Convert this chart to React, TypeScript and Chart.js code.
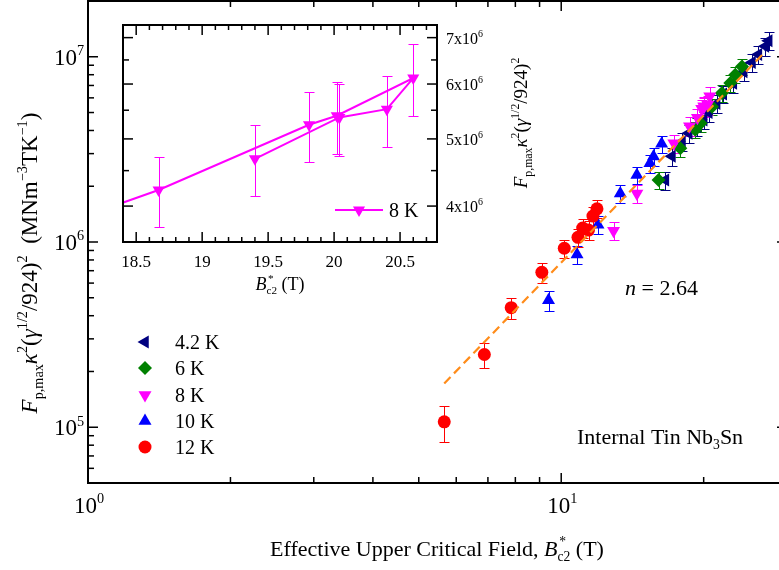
import { useEffect, useRef } from "react";
import { Chart, registerables } from "chart.js";

Chart.register(...registerables);

const SERIF = '"Liberation Serif", "Times New Roman", Times, serif';

// Effective upper critical field B*c2 (T) and scaled pinning force, per temperature
const b42 = [16.6, 17.14, 18.0, 18.6, 19.4, 20.0, 20.5, 21.3, 22.0, 23.1, 24.3, 25.3, 26.1, 27.0, 27.44];
const f42 = [2.16e6, 2.9e6, 3.48e6, 3.87e6, 4.2e6, 4.56e6, 5.0e6, 5.6e6, 6.3e6, 7.2e6, 8.3e6, 9.3e6, 1.03e7, 1.14e7, 1.22e7];
const e42 = [2.4e5, 3.2e5, 3.8e5, 4.3e5, 4.6e5, 5.0e5, 5.5e5, 6.2e5, 6.9e5, 7.9e5, 9.1e5, 1.02e6, 1.13e6, 1.25e6, 1.34e6];

const b6 = [16.06, 17.85, 19.2, 19.7, 20.83, 21.86, 22.77, 23.33, 24.1];
const f6 = [2.16e6, 3.21e6, 4.03e6, 4.38e6, 5.38e6, 6.37e6, 7.21e6, 8.0e6, 8.87e6];
const e6 = [2.2e5, 3.2e5, 4.0e5, 4.4e5, 5.4e5, 6.4e5, 7.2e5, 8.0e5, 8.9e5];

// 8 K points, kept in measurement order (the inset joins them in this order)
const b8 = [12.9, 14.45, 17.3, 18.67, 19.81, 20.02, 20.6, 20.4, 20.04, 19.4];
const f8 = [1.15e6, 1.83e6, 3.41e6, 4.22e6, 5.24e6, 5.4e6, 6.12e6, 5.52e6, 5.37e6, 4.68e6];
const e8 = [1.3e5, 2.0e5, 3.8e5, 4.9e5, 6.1e5, 6.4e5, 7.3e5, 6.5e5, 6.4e5, 5.5e5];

const b10 = [9.4, 10.8, 11.96, 13.33, 14.45, 15.4, 15.67, 16.3];
const f10 = [4.85e5, 8.57e5, 1.24e6, 1.83e6, 2.3e6, 2.66e6, 2.89e6, 3.39e6];
const e10 = [6.0e4, 1.0e5, 1.4e5, 2.0e5, 2.5e5, 3.0e5, 3.2e5, 3.6e5];

const b12 = [5.66, 6.88, 7.84, 9.1, 10.15, 10.85, 11.1, 11.42, 11.67, 11.9];
const f12 = [1.07e5, 2.47e5, 4.42e5, 6.86e5, 9.25e5, 1.06e6, 1.19e6, 1.16e6, 1.38e6, 1.51e6];
const e12 = [2.4e4, 3.8e4, 5.8e4, 8.5e4, 1.05e5, 1.2e5, 1.4e5, 1.4e5, 1.6e5, 1.7e5];

const seriesLabels = ["4.2 K", "6 K", "8 K", "10 K", "12 K"];

// Power-law fit F ~ A * B^n
const fitExponent = 2.64;
const fitPrefactor = 1774;
const fitB = [5.66, 26.6];

// Axis ranges and tick values
const mainXRange = [1, 30];
const mainYRange = [5e4, 2e7];
const mainXMajor = [1, 10];
const mainXExp = ["0", "1"];
const mainYMajor = [1e5, 1e6, 1e7];
const mainYExp = ["5", "6", "7"];

const insetXRange = [18.4, 20.78];
const insetYRange = [3.55e6, 7.3e6];
const insetXMajor = [18.5, 19, 19.5, 20, 20.5];
const insetXLabels = ["18.5", "19", "19.5", "20", "20.5"];
const insetYMajor = [4e6, 5e6, 6e6, 7e6];
const insetYMant = ["4x10", "5x10", "6x10", "7x10"];
const insetYMinor = [4.5e6, 5.5e6, 6.5e6];

type Seg = { t: string; k?: "i" | "sup" | "sub"; stack?: [string, string] };

function fontFor(size: number, italic: boolean) {
  return `${italic ? "italic " : ""}${size}px ${SERIF}`;
}

function segWidth(ctx: CanvasRenderingContext2D, s: Seg, size: number) {
  const small = size * 0.62;
  if (s.stack) {
    ctx.font = fontFor(small, false);
    return Math.max(ctx.measureText(s.stack[0]).width + size * 0.08, ctx.measureText(s.stack[1]).width);
  }
  const sz = s.k === "sup" || s.k === "sub" ? small : size;
  ctx.font = fontFor(sz, s.k === "i");
  return ctx.measureText(s.t).width;
}

function drawSegs(
  ctx: CanvasRenderingContext2D,
  segs: Seg[],
  x: number,
  y: number,
  size: number,
  align: "left" | "center" | "right"
) {
  let w = 0;
  for (const s of segs) w += segWidth(ctx, s, size);
  let cx = align === "center" ? x - w / 2 : align === "right" ? x - w : x;
  ctx.textAlign = "left";
  ctx.textBaseline = "alphabetic";
  ctx.fillStyle = "#000";
  const small = size * 0.62;
  for (const s of segs) {
    const adv = segWidth(ctx, s, size);
    if (s.stack) {
      ctx.font = fontFor(small, false);
      ctx.fillText(s.stack[0], cx + size * 0.08, y - size * 0.45);
      ctx.fillText(s.stack[1], cx, y + size * 0.24);
    } else {
      let dy = 0;
      let sz = size;
      if (s.k === "sup") {
        sz = small;
        dy = -size * 0.42;
      } else if (s.k === "sub") {
        sz = small;
        dy = size * 0.24;
      }
      ctx.font = fontFor(sz, s.k === "i");
      ctx.fillText(s.t, cx, y + dy);
    }
    cx += adv;
  }
}

function drawMarker(
  ctx: CanvasRenderingContext2D,
  style: string,
  rotDeg: number,
  r: number,
  x: number,
  y: number,
  color: string
) {
  ctx.save();
  ctx.fillStyle = color;
  ctx.beginPath();
  if (style === "circle") {
    ctx.arc(x, y, r, 0, Math.PI * 2);
  } else if (style === "rectRot") {
    ctx.moveTo(x, y - r);
    ctx.lineTo(x + r, y);
    ctx.lineTo(x, y + r);
    ctx.lineTo(x - r, y);
    ctx.closePath();
  } else {
    const a0 = (rotDeg * Math.PI) / 180;
    for (let k = 0; k < 3; k++) {
      const a = a0 + (k * 2 * Math.PI) / 3;
      const px = x + Math.sin(a) * r;
      const py = y - Math.cos(a) * r;
      if (k === 0) ctx.moveTo(px, py);
      else ctx.lineTo(px, py);
    }
    ctx.closePath();
  }
  ctx.fill();
  ctx.restore();
}

type Series = { b: number[]; f: number[]; e: number[]; color: string; style: string; rot: number; r: number };

const series: Series[] = [
  { b: b42, f: f42, e: e42, color: "#000080", style: "triangle", rot: -90, r: 7.5 },
  { b: b6, f: f6, e: e6, color: "#008000", style: "rectRot", rot: 0, r: 7 },
  { b: b8, f: f8, e: e8, color: "#ff00ff", style: "triangle", rot: 180, r: 7.5 },
  { b: b10, f: f10, e: e10, color: "#0000ff", style: "triangle", rot: 0, r: 7.5 },
  { b: b12, f: f12, e: e12, color: "#ff0000", style: "circle", rot: 0, r: 6.5 },
];

function errorBars(group: Series[], cap: number) {
  return {
    id: "errorBars",
    beforeDatasetsDraw(chart: any) {
      const { ctx, chartArea: a } = chart;
      const xs = chart.scales.x;
      const ys = chart.scales.y;
      ctx.save();
      ctx.beginPath();
      ctx.rect(a.left, a.top, a.right - a.left, a.bottom - a.top);
      ctx.clip();
      ctx.lineWidth = 1;
      for (const s of group) {
        ctx.strokeStyle = s.color;
        for (let i = 0; i < s.b.length; i++) {
          const px = Math.round(xs.getPixelForValue(s.b[i])) + 0.5;
          const yTop = Math.round(ys.getPixelForValue(s.f[i] + s.e[i])) + 0.5;
          const yBot = Math.round(ys.getPixelForValue(s.f[i] - s.e[i])) + 0.5;
          ctx.beginPath();
          ctx.moveTo(px, yTop);
          ctx.lineTo(px, yBot);
          ctx.moveTo(px - cap, yTop);
          ctx.lineTo(px + cap, yTop);
          ctx.moveTo(px - cap, yBot);
          ctx.lineTo(px + cap, yBot);
          ctx.stroke();
        }
      }
      ctx.restore();
    },
  };
}

function tickLine(ctx: CanvasRenderingContext2D, x0: number, y0: number, x1: number, y1: number) {
  ctx.beginPath();
  ctx.moveTo(x0, y0);
  ctx.lineTo(x1, y1);
  ctx.stroke();
}

const mainFrame = {
  id: "mainFrame",
  afterDraw(chart: any) {
    const { ctx, chartArea: a } = chart;
    const xs = chart.scales.x;
    const ys = chart.scales.y;
    ctx.save();
    ctx.strokeStyle = "#000";
    ctx.lineWidth = 2;
    ctx.strokeRect(a.left, a.top, a.right - a.left, a.bottom - a.top);

    ctx.lineWidth = 1.5;
    // x ticks, inward on bottom and top
    for (let d = 1; d <= 10; d *= 10) {
      for (let m = 1; m <= 9; m++) {
        const v = m * d;
        if (v <= mainXRange[0] || v >= mainXRange[1]) continue;
        const px = xs.getPixelForValue(v);
        const len = m === 1 ? 10 : 6;
        tickLine(ctx, px, a.bottom, px, a.bottom - len);
        tickLine(ctx, px, a.top, px, a.top + len);
      }
    }
    // y ticks, inward on left and right
    for (let d = 1e4; d <= 1e7; d *= 10) {
      for (let m = 1; m <= 9; m++) {
        const v = m * d;
        if (v <= mainYRange[0] || v >= mainYRange[1]) continue;
        const py = ys.getPixelForValue(v);
        const len = m === 1 ? 10 : 6;
        tickLine(ctx, a.left, py, a.left + len, py);
        tickLine(ctx, a.right, py, a.right - len, py);
      }
    }

    // tick labels
    mainXMajor.forEach((v, i) => {
      drawSegs(ctx, [{ t: "10" }, { t: mainXExp[i], k: "sup" }], xs.getPixelForValue(v) + 1, 513, 23, "center");
    });
    mainYMajor.forEach((v, i) => {
      drawSegs(ctx, [{ t: "10" }, { t: mainYExp[i], k: "sup" }], 84, ys.getPixelForValue(v) + 8, 23, "right");
    });

    // axis titles
    drawSegs(
      ctx,
      [{ t: "Effective Upper Critical Field, " }, { t: "B", k: "i" }, { t: "", stack: ["*", "c2"] }, { t: " (T)" }],
      437,
      556,
      22,
      "center"
    );
    ctx.save();
    ctx.translate(37, 263);
    ctx.rotate(-Math.PI / 2);
    drawSegs(
      ctx,
      [
        { t: "F", k: "i" },
        { t: "p,max", k: "sub" },
        { t: "κ", k: "i" },
        { t: "2", k: "sup" },
        { t: "(" },
        { t: "γ", k: "i" },
        { t: "1/2", k: "sup" },
        { t: "/924)" },
        { t: "2", k: "sup" },
        { t: "  (MNm" },
        { t: "−3", k: "sup" },
        { t: "TK" },
        { t: "−1", k: "sup" },
        { t: ")" },
      ],
      0,
      0,
      23,
      "center"
    );
    ctx.restore();

    // legend
    const rows = [342, 368, 395, 421, 447];
    series.forEach((s, i) => {
      drawMarker(ctx, s.style, s.rot, s.r, 145, rows[i], s.color);
      drawSegs(ctx, [{ t: seriesLabels[i] }], 175, rows[i] + 7, 20, "left");
    });

    // annotations
    drawSegs(ctx, [{ t: "n", k: "i" }, { t: " = 2.64" }], 625, 295, 22, "left");
    drawSegs(ctx, [{ t: "Internal Tin Nb" }, { t: "3", k: "sub" }, { t: "Sn" }], 577, 444, 22, "left");
    ctx.restore();
  },
};

const insetFrame = {
  id: "insetFrame",
  afterDraw(chart: any) {
    const { ctx, chartArea: a } = chart;
    const xs = chart.scales.x;
    const ys = chart.scales.y;
    ctx.save();
    ctx.strokeStyle = "#000";
    ctx.lineWidth = 2;
    ctx.strokeRect(a.left, a.top, a.right - a.left, a.bottom - a.top);
    ctx.lineWidth = 1.5;
    for (let k = 185; k <= 207; k++) {
      const v = k / 10;
      if (v <= insetXRange[0] || v >= insetXRange[1]) continue;
      const px = xs.getPixelForValue(v);
      const len = k % 5 === 0 ? 10 : 5;
      tickLine(ctx, px, a.bottom, px, a.bottom - len);
      tickLine(ctx, px, a.top, px, a.top + len);
    }
    insetYMajor.forEach((v) => {
      const py = ys.getPixelForValue(v);
      tickLine(ctx, a.left, py, a.left + 10, py);
      tickLine(ctx, a.right, py, a.right - 10, py);
    });
    insetYMinor.forEach((v) => {
      const py = ys.getPixelForValue(v);
      tickLine(ctx, a.left, py, a.left + 6, py);
      tickLine(ctx, a.right, py, a.right - 6, py);
    });

    insetXMajor.forEach((v, i) => {
      drawSegs(ctx, [{ t: insetXLabels[i] }], xs.getPixelForValue(v), 252, 17, "center");
    });
    insetYMajor.forEach((v, i) => {
      drawSegs(ctx, [{ t: insetYMant[i] }, { t: "6", k: "sup" }], a.right + 9, ys.getPixelForValue(v) + 6, 16, "left");
    });

    drawSegs(ctx, [{ t: "B", k: "i" }, { t: "", stack: ["*", "c2"] }, { t: " (T)" }], 180, 275, 18, "center");
    ctx.save();
    ctx.translate(427, 108);
    ctx.rotate(-Math.PI / 2);
    drawSegs(
      ctx,
      [
        { t: "F", k: "i" },
        { t: "p,max", k: "sub" },
        { t: "κ", k: "i" },
        { t: "2", k: "sup" },
        { t: "(" },
        { t: "γ", k: "i" },
        { t: "1/2", k: "sup" },
        { t: "/924)" },
        { t: "2", k: "sup" },
      ],
      0,
      0,
      19,
      "center"
    );
    ctx.restore();

    // legend entry
    ctx.strokeStyle = "#ff00ff";
    ctx.lineWidth = 2;
    tickLine(ctx, 235, 195, 283, 195);
    drawMarker(ctx, "triangle", 180, 7, 259, 195, "#ff00ff");
    drawSegs(ctx, [{ t: seriesLabels[2] }], 289, 202, 20, "left");
    ctx.restore();
  },
};

export default function App() {
  const mainRef = useRef<HTMLCanvasElement>(null);
  const insetRef = useRef<HTMLCanvasElement>(null);

  useEffect(() => {
    const datasets: any[] = series.map((s, i) => ({
      type: "scatter",
      label: seriesLabels[i],
      data: s.b.map((x, j) => ({ x, y: s.f[j] })),
      pointStyle: s.style,
      pointRotation: s.rot,
      pointRadius: s.r,
      pointBackgroundColor: s.color,
      pointBorderColor: s.color,
      pointBorderWidth: 0,
      showLine: false,
      order: 5 - i,
    }));
    datasets.push({
      type: "line",
      label: "fit",
      data: fitB.map((x) => ({ x, y: fitPrefactor * Math.pow(x, fitExponent) })),
      borderColor: "#ff8c1a",
      borderWidth: 2.2,
      borderDash: [9, 5],
      pointRadius: 0,
      fill: false,
      order: 0,
    });

    const main = new Chart(mainRef.current!, {
      type: "scatter",
      data: { datasets },
      options: {
        responsive: false,
        animation: false,
        devicePixelRatio: 1,
        layout: { autoPadding: false, padding: { left: 88, top: 1, right: 13, bottom: 87 } },
        scales: {
          x: { type: "logarithmic", min: mainXRange[0], max: mainXRange[1], display: false },
          y: { type: "logarithmic", min: mainYRange[0], max: mainYRange[1], display: false },
        },
        plugins: { legend: { display: false }, tooltip: { enabled: false } },
      },
      plugins: [errorBars(series, 5), mainFrame],
    } as any);

    const inset = new Chart(insetRef.current!, {
      type: "line",
      data: {
        datasets: [
          {
            label: seriesLabels[2],
            data: b8.map((x, j) => ({ x, y: f8[j] })),
            borderColor: "#ff00ff",
            borderWidth: 2,
            pointStyle: "triangle",
            pointRotation: 180,
            pointRadius: 7,
            pointBackgroundColor: "#ff00ff",
            pointBorderColor: "#ff00ff",
            pointBorderWidth: 0,
            tension: 0,
            clip: 0,
          },
        ],
      },
      options: {
        responsive: false,
        animation: false,
        devicePixelRatio: 1,
        layout: { autoPadding: false, padding: { left: 23, top: 10, right: 103, bottom: 73 } },
        scales: {
          x: { type: "linear", min: insetXRange[0], max: insetXRange[1], display: false },
          y: { type: "logarithmic", min: insetYRange[0], max: insetYRange[1], display: false },
        },
        plugins: { legend: { display: false }, tooltip: { enabled: false } },
      },
      plugins: [errorBars([series[2]], 5), insetFrame],
    } as any);

    return () => {
      main.destroy();
      inset.destroy();
    };
  }, []);

  return (
    <div
      style={{
        position: "fixed",
        left: 0,
        top: 0,
        width: 779,
        height: 570,
        overflow: "hidden",
        background: "#fff",
      }}
    >
      <canvas
        ref={mainRef}
        width={800}
        height={570}
        style={{ position: "absolute", left: 0, top: 0, width: 800, height: 570 }}
      />
      <canvas
        ref={insetRef}
        width={440}
        height={300}
        style={{ position: "absolute", left: 100, top: 15, width: 440, height: 300 }}
      />
    </div>
  );
}
